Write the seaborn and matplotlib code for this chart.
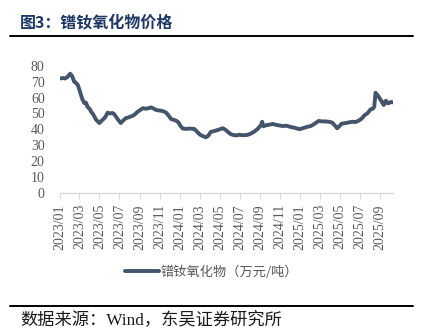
import matplotlib
matplotlib.use("Agg")
import matplotlib.pyplot as plt
import matplotlib.dates as mdates
from matplotlib.lines import Line2D
import pandas as pd
import seaborn as sns

sns.set_theme(style="white")
# 西文用衬线字体，中文回落到思源黑体
plt.rcParams["font.family"] = ["Liberation Serif", "Noto Sans CJK SC", "DejaVu Sans"]
cjk = ["Noto Sans CJK SC", "DejaVu Sans"]
mixed = ["Liberation Serif", "Noto Sans CJK SC", "DejaVu Sans"]

# 镨钕氧化物价格（万元/吨）
dates = [
    "2023-01-03", "2023-01-10", "2023-01-17", "2023-01-24", "2023-02-01",
    "2023-02-07", "2023-02-13", "2023-02-17", "2023-02-24", "2023-03-01",
    "2023-03-06", "2023-03-10", "2023-03-16", "2023-03-21", "2023-03-26",
    "2023-04-01", "2023-04-06", "2023-04-12", "2023-04-17", "2023-04-21",
    "2023-04-26", "2023-05-01", "2023-05-08", "2023-05-16", "2023-05-21",
    "2023-05-26", "2023-06-02", "2023-06-10", "2023-06-15", "2023-06-20",
    "2023-06-27", "2023-07-05", "2023-07-12", "2023-07-20", "2023-07-28",
    "2023-08-03", "2023-08-10", "2023-08-17", "2023-08-25", "2023-09-01",
    "2023-09-10", "2023-09-18", "2023-09-26", "2023-10-05", "2023-10-12",
    "2023-10-20", "2023-10-31", "2023-11-10", "2023-11-20", "2023-11-28",
    "2023-12-05", "2023-12-12", "2023-12-20", "2023-12-27", "2024-01-03",
    "2024-01-10", "2024-01-20", "2024-02-01", "2024-02-14", "2024-02-22",
    "2024-03-01", "2024-03-10", "2024-03-20", "2024-03-27", "2024-04-04",
    "2024-04-12", "2024-04-25", "2024-05-03", "2024-05-10", "2024-05-18",
    "2024-05-25", "2024-06-02", "2024-06-10", "2024-06-20", "2024-06-29",
    "2024-07-10", "2024-07-24", "2024-08-02", "2024-08-14", "2024-08-24",
    "2024-09-04", "2024-09-07", "2024-09-11", "2024-09-20", "2024-10-01",
    "2024-10-09", "2024-10-20", "2024-11-01", "2024-11-08", "2024-11-20",
    "2024-12-01", "2024-12-08", "2024-12-18", "2024-12-29", "2025-01-10",
    "2025-01-24", "2025-02-01", "2025-02-08", "2025-02-17", "2025-02-26",
    "2025-03-08", "2025-03-18", "2025-03-28", "2025-04-08", "2025-04-16",
    "2025-04-23", "2025-04-30", "2025-05-07", "2025-05-15", "2025-05-25",
    "2025-06-08", "2025-06-18", "2025-06-28", "2025-07-08", "2025-07-16",
    "2025-07-24", "2025-08-03", "2025-08-10", "2025-08-14", "2025-08-18",
    "2025-08-22", "2025-08-26", "2025-09-01", "2025-09-06", "2025-09-12",
    "2025-09-16", "2025-09-19", "2025-09-23", "2025-09-27", "2025-10-03",
    "2025-10-10",
]
prices = [
    72.0, 72.3, 72.0, 73.0, 75.0,
    73.5, 70.0, 69.5, 68.0, 65.0,
    61.5, 59.0, 56.5, 56.8, 54.0,
    53.0, 51.0, 49.5, 47.5, 46.0,
    45.0, 44.0, 45.5, 47.0, 48.5,
    50.5, 50.0, 50.3, 49.5, 48.0,
    46.0, 44.0, 45.5, 47.0, 47.5,
    48.0, 48.5, 49.5, 51.0, 52.0,
    53.3, 53.0, 53.2, 53.8, 53.2,
    52.2, 51.8, 51.5, 50.5, 48.5,
    46.5, 46.0, 45.5, 44.5, 42.0,
    40.5, 40.3, 40.5, 40.2, 38.5,
    36.8, 35.8, 35.0, 36.0, 38.5,
    38.8, 39.6, 40.2, 40.7, 39.8,
    38.6, 37.2, 36.5, 36.2, 36.6,
    36.3, 36.5, 37.2, 38.6, 40.2,
    42.8, 44.8, 42.0, 42.6, 43.0,
    43.4, 42.8, 42.4, 42.1, 42.3,
    41.6, 41.3, 40.8, 40.1, 40.8,
    41.7, 42.0, 42.8, 44.0, 45.3,
    45.0, 45.0, 44.8, 44.3, 42.5,
    40.7, 42.0, 43.6, 43.8, 44.2,
    44.8, 44.6, 45.5, 47.0, 49.0,
    50.0, 52.6, 53.0, 54.3, 63.0,
    62.0, 61.0, 59.0, 57.4, 55.3,
    57.5, 58.0, 56.5, 56.4, 57.2,
    57.0,
]
series_name = "镨钕氧化物（万元/吨）"
y_ticks = [0, 10, 20, 30, 40, 50, 60, 70, 80]

df = pd.DataFrame({"日期": pd.to_datetime(dates), "价格": prices})

line_color = "#44546A"
tick_color = "#595959"

fig = plt.figure(figsize=(4.23, 3.28), dpi=100)
ax = fig.add_axes([0.1418, 0.4116, 0.7872, 0.388])

sns.lineplot(data=df, x="日期", y="价格", ax=ax, color=line_color,
             linewidth=2.8, legend=False)

ax.set_xlim(pd.Timestamp("2023-01-01"), pd.Timestamp("2025-10-10"))
ax.set_ylim(0, 80)
ax.set_yticks(y_ticks)
ax.xaxis.set_major_locator(mdates.MonthLocator(bymonth=[1, 3, 5, 7, 9, 11]))
ax.xaxis.set_major_formatter(mdates.DateFormatter("%Y/%m"))
ax.set_xlabel("")
ax.set_ylabel("")

for side in ["top", "right", "left"]:
    ax.spines[side].set_visible(False)
ax.spines["bottom"].set_color("#D9D9D9")
ax.spines["bottom"].set_linewidth(1.0)

ax.tick_params(axis="x", which="major", direction="out", length=4, width=0.8,
               color="#D9D9D9", pad=4, labelsize=10, labelcolor=tick_color,
               labelrotation=90, bottom=True)
ax.tick_params(axis="y", length=0, pad=11, labelsize=10, labelcolor=tick_color)

# 标题与分隔线
fig.text(20 / 423, 1 - 22 / 328, "图3：镨钕氧化物价格", fontsize=11.5, fontweight="bold",
         color="#1F3864", va="center", ha="left", family=cjk)
fig.add_artist(Line2D([10 / 423, 413 / 423], [1 - 36 / 328, 1 - 36 / 328],
                      color="black", linewidth=1.4))
fig.add_artist(Line2D([10 / 423, 413 / 423], [1 - 306 / 328, 1 - 306 / 328],
                      color="black", linewidth=1.4))

# 图例
handle = Line2D([], [], color=line_color, linewidth=2.8)
fig.legend([handle], [series_name], loc="center", bbox_to_anchor=(0.5, 1 - 272 / 328),
           frameon=False, handlelength=2.6, handletextpad=0.15,
           prop={"size": 9.5, "family": cjk}, labelcolor=tick_color)

fig.text(20 / 423, 1 - 321 / 328, "数据来源：Wind，东吴证券研究所", fontsize=12.4,
         color="#1a1a1a", va="center", ha="left", family=mixed)

fig.savefig("out.png", dpi=100)
